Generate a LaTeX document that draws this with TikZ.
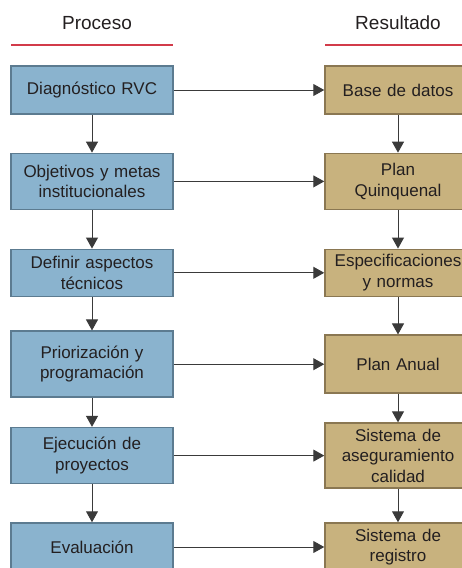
\documentclass[tikz,border=0pt]{standalone}
\usepackage{xcolor}
\usepackage{fontspec}
\setmainfont{Liberation Sans}
\usetikzlibrary{arrows.meta}

\definecolor{procfondo}{HTML}{8AB3CE}
\definecolor{procborde}{HTML}{5C7B90}
\definecolor{resfondo}{HTML}{C8B27E}
\definecolor{resborde}{HTML}{8A7752}
\definecolor{rojo}{HTML}{D23B4A}
\definecolor{texto}{HTML}{231F20}
\definecolor{linea}{HTML}{3A3A3A}

\begin{document}
\begin{tikzpicture}[x=1pt, y=1pt, node distance=91.4pt,
    every node/.style={text=texto, font=\fontsize{17}{20.5}\selectfont},
    proceso/.style={rectangle, draw=procborde, fill=procfondo, line width=1.5pt,
        minimum width=162pt, text width=156pt, align=center, inner sep=0pt},
    resultado/.style={rectangle, draw=resborde, fill=resfondo, line width=1.5pt,
        minimum width=146pt, text width=142pt, align=center, inner sep=0pt},
    titulo/.style={font=\fontsize{19}{22}\selectfont},
    flecha/.style={draw=linea, line width=1pt, -{Triangle[length=11pt,width=12pt]}}]
    \useasboundingbox (0,0) rectangle (462,-568);

    % Headers
    \node (proc) [titulo] at (97,-23) {Proceso};
    \node (res) [titulo] at (398,-23) {Resultado};
    \draw[rojo, line width=2pt] (11,-45) -- (173,-45);
    \draw[rojo, line width=2pt] (325,-45) -- (462,-45);

    % Process column
    \node (diag) [proceso, minimum height=48pt] at (92,-90) {Diagnóstico RVC};
    \node (obj) [proceso, below of=diag, minimum height=56pt] {Objetivos y metas\\institucionales};
    \node (def) [proceso, below of=obj, minimum height=47pt] {Definir aspectos\\técnicos};
    \node (prio) [proceso, below of=def, minimum height=66pt] {Priorización y\\programación};
    \node (ejec) [proceso, below of=prio, minimum height=56pt] {Ejecución de\\proyectos};
    \node (eval) [proceso, below of=ejec, minimum height=48pt] {Evaluación};

    % Result column
    \node (base) [resultado, right of=diag, xshift=214.6pt, minimum height=48pt] {Base de datos};
    \node (quin) [resultado, below of=base, minimum height=56pt] {Plan\\Quinquenal};
    \node (espec) [resultado, below of=quin, minimum height=47pt] {Especificaciones\\y normas};
    \node (anual) [resultado, below of=espec, minimum height=58pt] {Plan Anual};
    \node (asegu) [resultado, below of=anual, minimum height=65pt] {Sistema de\\aseguramiento\\calidad};
    \node (regis) [resultado, below of=asegu, minimum height=48pt] {Sistema de\\registro};

    % Arrows
    \draw[flecha] (diag) -- (obj);
    \draw[flecha] (obj) -- (def);
    \draw[flecha] (def) -- (prio);
    \draw[flecha] (prio) -- (ejec);
    \draw[flecha] (ejec) -- (eval);
    \draw[flecha] (base) -- (quin);
    \draw[flecha] (quin) -- (espec);
    \draw[flecha] (espec) -- (anual);
    \draw[flecha] (anual) -- (asegu);
    \draw[flecha] (asegu) -- (regis);
    \draw[flecha] (diag) -- (base);
    \draw[flecha] (obj) -- (quin);
    \draw[flecha] (def) -- (espec);
    \draw[flecha] (prio) -- (anual);
    \draw[flecha] (ejec) -- (asegu);
    \draw[flecha] (eval) -- (regis);
\end{tikzpicture}
\end{document}
